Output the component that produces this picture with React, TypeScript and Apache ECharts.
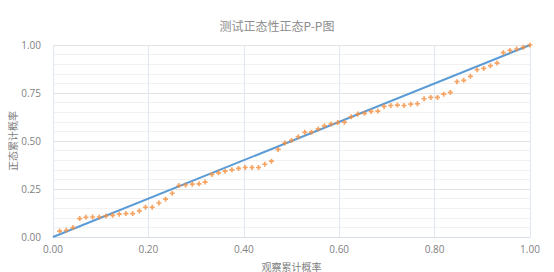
import React, { useEffect, useRef } from "react";
import * as echarts from "echarts";

const titleText = "测试正态性正态P-P图";
const xAxisName = "观察累计概率";
const yAxisName = "正态累计概率";

// Observed cumulative probability (x) for each sorted sample
const observed = [
  0.014, 0.028, 0.042, 0.056, 0.069, 0.083, 0.097, 0.111, 0.125, 0.139,
  0.153, 0.167, 0.181, 0.194, 0.208, 0.222, 0.236, 0.25, 0.264, 0.278,
  0.292, 0.306, 0.319, 0.333, 0.347, 0.361, 0.375, 0.389, 0.403, 0.417,
  0.431, 0.444, 0.458, 0.472, 0.486, 0.5, 0.514, 0.528, 0.542, 0.556,
  0.569, 0.583, 0.597, 0.611, 0.625, 0.639, 0.653, 0.667, 0.681, 0.694,
  0.708, 0.722, 0.736, 0.75, 0.764, 0.778, 0.792, 0.806, 0.819, 0.833,
  0.847, 0.861, 0.875, 0.889, 0.903, 0.917, 0.931, 0.944, 0.958, 0.972,
  0.986, 1.0,
];

// Expected normal cumulative probability (y) for each sample
const expected = [
  0.031, 0.035, 0.049, 0.096, 0.103, 0.104, 0.104, 0.11, 0.113, 0.119,
  0.122, 0.122, 0.136, 0.155, 0.155, 0.177, 0.197, 0.228, 0.268, 0.271,
  0.275, 0.277, 0.286, 0.326, 0.334, 0.343, 0.35, 0.357, 0.362, 0.362,
  0.362, 0.379, 0.395, 0.456, 0.489, 0.503, 0.522, 0.545, 0.546, 0.563,
  0.579, 0.589, 0.596, 0.598, 0.626, 0.64, 0.644, 0.654, 0.656, 0.68,
  0.685, 0.687, 0.685, 0.692, 0.694, 0.72, 0.727, 0.727, 0.744, 0.753,
  0.809, 0.816, 0.837, 0.871, 0.878, 0.892, 0.906, 0.96, 0.972, 0.979,
  0.988, 1.0,
];

// Reference diagonal
const diagonal = [
  [0, 0],
  [1, 1],
];

const plusSymbol = "path://M2,0h2v2h2v2h-2v2h-2v-2h-2v-2h2z";

export default function App() {
  const ref = useRef<HTMLDivElement>(null);

  useEffect(() => {
    if (!ref.current) return;
    const chart = echarts.init(ref.current, undefined, { renderer: "svg" });
    const points = observed.map((x, i) => [x, expected[i]]);
    chart.setOption({
      animation: false,
      backgroundColor: "#ffffff",
      title: {
        text: titleText,
        left: "center",
        top: 14,
        textStyle: {
          fontFamily: "Noto Sans CJK SC",
          fontSize: 12,
          fontWeight: "normal",
          color: "#8c8c8c",
        },
      },
      grid: {
        left: 53,
        right: 24,
        top: 45,
        bottom: 35,
        containLabel: false,
        outerBoundsMode: "none",
      },
      xAxis: {
        type: "value",
        min: 0,
        max: 1,
        interval: 0.2,
        name: xAxisName,
        nameLocation: "middle",
        nameGap: 24,
        nameMoveOverlap: false,
        nameTextStyle: {
          fontFamily: "Noto Sans CJK SC",
          fontSize: 10,
          color: "#7f7f7f",
        },
        axisLine: { show: true, lineStyle: { color: "#d6deea", width: 1 } },
        axisTick: { show: false },
        axisLabel: {
          fontFamily: "Open Sans",
          fontSize: 10,
          color: "#7f7f7f",
          margin: 7,
          formatter: (v: number) => v.toFixed(2),
        },
        splitLine: { show: true, lineStyle: { color: "#e1e7f1", width: 1 } },
      },
      yAxis: {
        type: "value",
        min: 0,
        max: 1,
        interval: 0.25,
        name: yAxisName,
        nameLocation: "middle",
        nameGap: 36,
        nameMoveOverlap: false,
        nameTextStyle: {
          fontFamily: "Noto Sans CJK SC",
          fontSize: 10,
          color: "#7f7f7f",
        },
        axisLine: { show: false },
        axisTick: { show: false },
        axisLabel: {
          fontFamily: "Open Sans",
          fontSize: 10,
          color: "#7f7f7f",
          margin: 12,
          formatter: (v: number) => v.toFixed(2),
        },
        splitLine: { show: true, lineStyle: { color: "#e3e3e3", width: 1 } },
        minorTick: { show: false, splitNumber: 5 },
        minorSplitLine: { show: true, lineStyle: { color: "#f1f1f1", width: 1 } },
      },
      series: [
        {
          type: "line",
          data: diagonal,
          symbol: "none",
          lineStyle: { color: "#5b9bd5", width: 2 },
          z: 2,
        },
        {
          type: "scatter",
          data: points,
          symbol: plusSymbol,
          symbolSize: 5,
          itemStyle: { color: "#f58d3c" },
          z: 3,
        },
      ],
    });
    return () => chart.dispose();
  }, []);

  return (
    <div
      ref={ref}
      style={{ position: "absolute", left: 0, top: 0, width: 554, height: 272 }}
    />
  );
}
